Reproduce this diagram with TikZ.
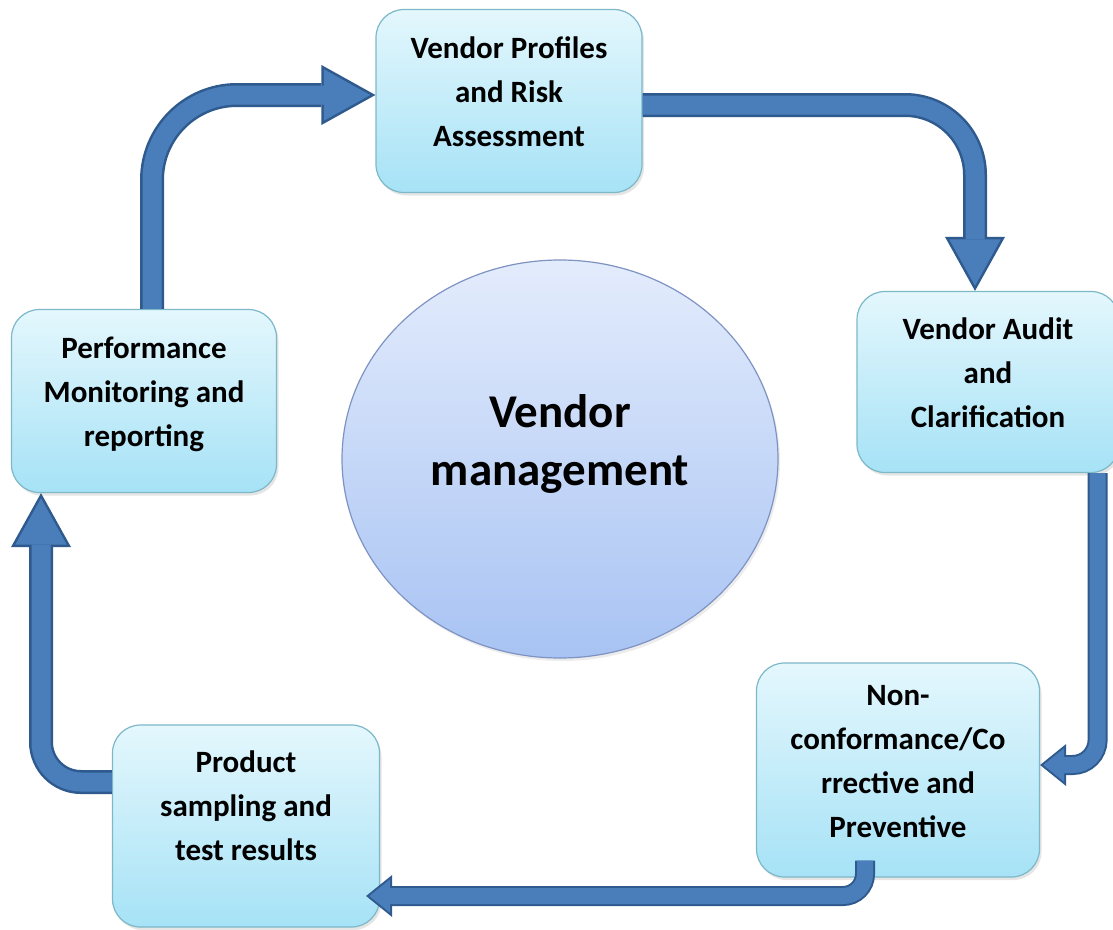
\documentclass[tikz,border=0pt]{standalone}
\usepackage{fontspec}
\setmainfont{Carlito}
\usepackage{tikz}
\usetikzlibrary{arrows.meta,positioning,shapes.geometric,shadows}
\definecolor{boxtop}{HTML}{E4F7FD}
\definecolor{boxbot}{HTML}{A6E2F6}
\definecolor{boxline}{HTML}{7DB8C8}
\definecolor{hubtop}{HTML}{E3ECFC}
\definecolor{hubbot}{HTML}{A8C3F3}
\definecolor{hubline}{HTML}{7F93C2}
\definecolor{pipefill}{HTML}{4A7EBB}
\definecolor{pipeedge}{HTML}{2E5A8E}

\begin{document}
\begin{tikzpicture}[x=1pt,y=-1pt,
  stage/.style={draw=boxline,line width=1.2pt,rounded corners=28pt,top color=boxtop,bottom color=boxbot,
    drop shadow={opacity=.2,shadow xshift=2pt,shadow yshift=-3pt},
    align=center,font=\fontsize{31}{44}\selectfont\bfseries,text depth=18pt},
  hub/.style={ellipse,draw=hubline,line width=1.2pt,top color=hubtop,bottom color=hubbot,
    drop shadow={opacity=.15,shadow xshift=2pt,shadow yshift=-3pt},
    inner sep=0pt,align=center,font=\fontsize{47}{58}\selectfont\bfseries,text depth=38pt},
  pipe/.style={pipefill,line width=19pt,shorten >=5.2pt,-{Triangle[length=46.3pt,width=51.4pt,line width=0pt]},
    preaction={draw=pipeedge,line width=24pt,shorten >=0pt,-{Triangle[length=54pt,width=60pt,line width=0pt]}}},
  smallpipe/.style={pipefill,line width=16pt,shorten >=3.2pt,-{Triangle[length=20.8pt,width=33.6pt,line width=0pt]},
    preaction={draw=pipeedge,line width=20pt,shorten >=0pt,-{Triangle[length=26pt,width=42pt,line width=0pt]}}}]
\fill[white] (0,0) rectangle (1113,929);
\useasboundingbox (0,0) rectangle (1113,929);

\node[hub,minimum width=436pt,minimum height=398pt] (hub) at (560,459) {Vendor\\management};

\node[stage,minimum width=266pt,minimum height=183pt] (prof) at (509,101) {Vendor Profiles\\and Risk\\Assessment};
\node[stage,minimum width=262pt,minimum height=181pt] (audit) at (988,382) {Vendor Audit\\and\\Clarification};
\node[stage,minimum width=283pt,minimum height=214pt] (nonconf) at (898,770) {Non-\\conformance/Co\\rrective and\\Preventive};
\node[stage,minimum width=267pt,minimum height=202pt,text depth=40pt] (prod) at (246,826) {Product\\sampling and\\test results};
\node[stage,minimum width=265pt,minimum height=183pt] (perf) at (144,401) {Performance\\Monitoring and\\reporting};

\draw[pipe,rounded corners=70pt] ([yshift=-4pt]prof.east) -| ([xshift=-13pt]audit.north);
\draw[smallpipe,rounded corners=25pt] ([xshift=-22pt]audit.south east) |- ([yshift=5pt]nonconf.east);
\draw[smallpipe,rounded corners=22pt] ([xshift=-33pt,yshift=17pt]nonconf.south) |- ([xshift=-14pt,yshift=-70pt]prod.east);
\draw[pipe,rounded corners=40pt] ([yshift=44pt]prod.west) -| ([xshift=-103pt]perf.south);
\draw[pipe,rounded corners=85pt] ([xshift=8pt]perf.north) |- ([yshift=6pt]prof.west);
\end{tikzpicture}
\end{document}
